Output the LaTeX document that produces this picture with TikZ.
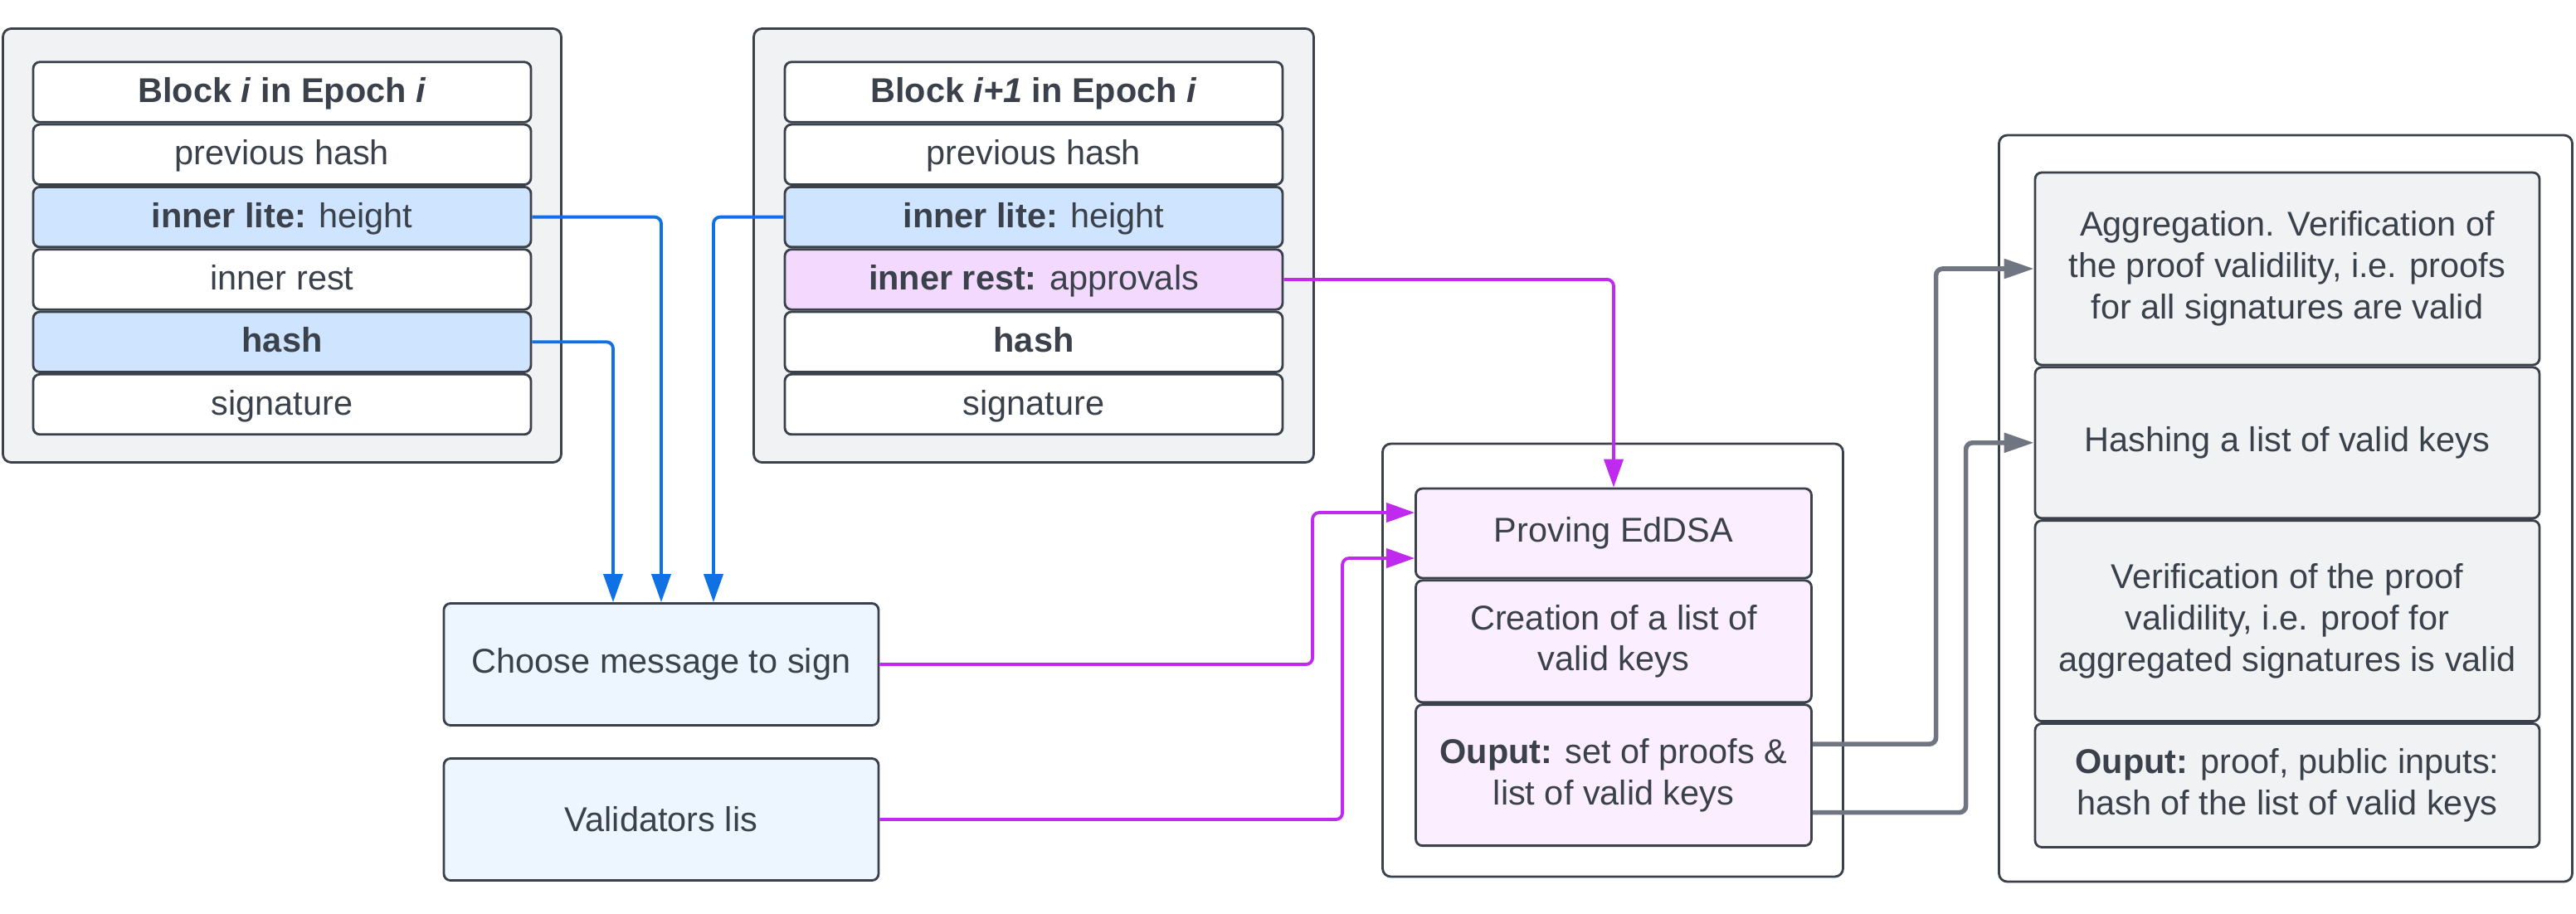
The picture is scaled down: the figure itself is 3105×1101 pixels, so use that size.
\documentclass[tikz,border=0pt]{standalone}
\usepackage{fontspec}
\setmainfont{Liberation Sans}
\usetikzlibrary{positioning}
\usetikzlibrary{arrows.meta}
\definecolor{ink}{HTML}{3A414A}
\definecolor{boxgray}{HTML}{F1F2F4}
\definecolor{liteblue}{HTML}{CFE4FF}
\definecolor{litepink}{HTML}{F2D9FD}
\definecolor{inputfill}{HTML}{EDF5FF}
\definecolor{provefill}{HTML}{FAEEFF}
\definecolor{blueline}{HTML}{1071E5}
\definecolor{pinkline}{HTML}{C02AEE}
\definecolor{grayline}{HTML}{6F7681}

\begin{document}
\begin{tikzpicture}[
        x=0.1mm, y=-0.1mm,
        node distance=0pt,
        every node/.style={font=\fontsize{11.8pt}{14.2pt}\selectfont, text=ink},
        frame/.style={draw=ink, line width=0.8pt, rounded corners=1mm, fill=#1},
        frame/.default=white,
        row/.style={draw=ink, line width=0.8pt, rounded corners=0.8mm, fill=#1, minimum width=6cm, minimum height=0.725cm, text height=0.95em, text depth=0.23em, inner sep=0pt},
        row/.default=white,
        stage/.style={draw=ink, line width=0.8pt, rounded corners=0.8mm, fill=#1, minimum width=6.08cm, align=center, inner sep=0pt},
        stage/.default=boxgray,
        inbox/.style={draw=ink, line width=0.8pt, rounded corners=0.8mm, fill=inputfill, minimum width=5.24cm, minimum height=1.47cm, align=center},
        bluearrow/.style={draw=blueline, line width=1.1pt, rounded corners=0.8mm, -{Triangle[length=3.4mm, width=2.3mm]}},
        pinkarrow/.style={draw=pinkline, line width=1.1pt, rounded corners=0.8mm, -{Triangle[length=3.4mm, width=2.3mm]}},
        grayarrow/.style={draw=grayline, line width=1.6pt, rounded corners=0.8mm, -{Triangle[length=3.6mm, width=2.3mm]}},
    ]
        \useasboundingbox (0,0) rectangle (3105,1101);

        % block i
        \node[frame=boxgray, minimum width=6.73cm, minimum height=5.23cm] (blockA) at (340,296) {};
        \node[row] (titleA) at (340,111) {\textbf{Block \textit{i} in Epoch \textit{i}}};
        \node[row, below=of titleA] (prevA) {previous hash};
        \node[row=liteblue, below=of prevA] (liteA) {\textbf{inner lite:} height};
        \node[row, below=of liteA] (restA) {inner rest};
        \node[row=liteblue, below=of restA] (hashA) {\textbf{hash}};
        \node[row, below=of hashA] (sigA) {signature};

        % block i+1
        \node[frame=boxgray, minimum width=6.75cm, minimum height=5.23cm] (blockB) at (1246,296) {};
        \node[row] (titleB) at (1246,111) {\textbf{Block \textit{i+1} in Epoch \textit{i}}};
        \node[row, below=of titleB] (prevB) {previous hash};
        \node[row=liteblue, below=of prevB] (liteB) {\textbf{inner lite:} height};
        \node[row=litepink, below=of liteB] (restB) {\textbf{inner rest:} approvals};
        \node[row, below=of restB] (hashB) {\textbf{hash}};
        \node[row, below=of hashB] (sigB) {signature};

        % inputs
        \node[inbox] (choose) at (797,801) {Choose message to sign};
        \node[inbox] (valid) at (797,988) {Validators lis};

        % prover
        \node[frame, minimum width=5.55cm, minimum height=5.22cm] (prover) at (1944,796) {};
        \node[stage=provefill, minimum width=4.77cm, minimum height=1.08cm] (prove) at (1945,643) {Proving EdDSA};
        \node[stage=provefill, minimum width=4.77cm, minimum height=1.47cm, below=of prove] (create) {Creation of a list of\\valid keys};
        \node[stage=provefill, minimum width=4.77cm, minimum height=1.70cm, below=of create] (outA) {\textbf{Ouput:} set of proofs \&\\list of valid keys};

        % aggregator
        \node[frame, minimum width=6.91cm, minimum height=9cm] (verifier) at (2755,613) {};
        \node[stage, minimum height=2.32cm] (agg) at (2757,324) {Aggregation. Verification of\\the proof validility, i.e. proofs\\for all signatures are valid};
        \node[stage, minimum height=1.82cm, below=of agg] (hashkeys) {Hashing a list of valid keys};
        \node[stage, minimum height=2.42cm, below=of hashkeys] (verif) {Verification of the proof\\validility, i.e. proof for\\aggregated signatures is valid};
        \node[stage, minimum height=1.49cm, below=of verif] (outB) {\textbf{Ouput:} proof, public inputs:\\hash of the list of valid keys};

        \coordinate (provein1) at ([yshift=2.5mm]prove.west);
        \coordinate (provein2) at ([yshift=-3mm]prove.west);
        \coordinate (outA1) at ([yshift=3.75mm]outA.east);
        \coordinate (outA2) at ([yshift=-4.5mm]outA.east);

        \draw[bluearrow] (liteA.east) -| (choose.north);
        \draw[bluearrow] (hashA.east) -| ([xshift=-5.8mm]choose.north);
        \draw[bluearrow] (liteB.west) -| ([xshift=6.3mm]choose.north);

        \draw[pinkarrow] (restB.east) -| (prove.north);
        \draw[pinkarrow] (choose.east) -| ([xshift=-12.3mm]provein1) -- (provein1);
        \draw[pinkarrow] (valid.east) -| ([xshift=-8.7mm]provein2) -- (provein2);

        \draw[grayarrow] (outA1) -| ([xshift=-11.8mm]agg.west) -- (agg.west);
        \draw[grayarrow] (outA2) -| ([xshift=-8.2mm]hashkeys.west) -- (hashkeys.west);
    \end{tikzpicture}
\end{document}
